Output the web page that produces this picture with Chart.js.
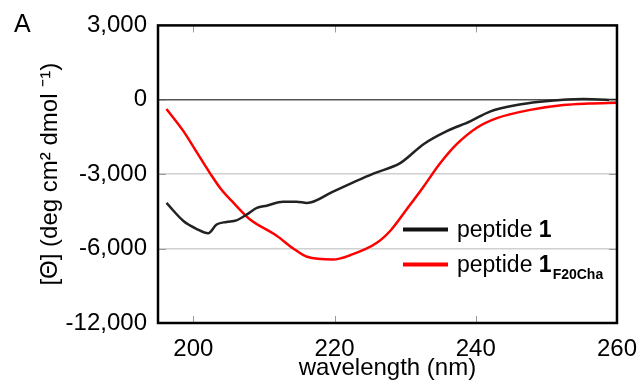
<!DOCTYPE html>
<html>
<head>
<meta charset="utf-8">
<script src="https://cdn.jsdelivr.net/npm/chart.js@4/dist/chart.umd.min.js"></script>
<style>
    html, body { margin: 0; padding: 0; background: #fff; }
    #wrap { width: 641px; height: 383px; }
</style>
</head>
<body>
<div id="wrap"><canvas id="cdChart" width="641" height="383"></canvas></div>
<script>
// Данные спектров КД
var wavelength1 = [196.2, 198.6, 200.5, 202.1, 203.3, 204.7, 206.1, 207.6, 209.0, 210.4, 212.7, 214.6, 216.1, 219.8, 222.5, 225.5, 229.3, 232.6, 235.9, 239.2, 242.0, 245.8, 249.1, 252.9, 255.2, 260.0];
var peptide1 = [-4160, -4885, -5210, -5385, -5030, -4925, -4860, -4620, -4360, -4270, -4110, -4110, -4160, -3700, -3350, -2975, -2555, -1790, -1264, -870, -474, -210, -79, 13, 28, -12];

var wavelength2 = [196.2, 198.6, 200.5, 202.4, 204.0, 205.7, 208.0, 211.8, 214.2, 216.1, 219.8, 222.2, 226.0, 228.0, 230.2, 232.6, 234.9, 237.3, 240.1, 243.0, 247.7, 252.4, 256.0, 260.0];
var peptide1F20Cha = [-370, -1264, -2120, -2975, -3630, -4160, -4820, -5480, -6004, -6330, -6440, -6268, -5767, -5250, -4424, -3504, -2580, -1790, -1134, -739, -407, -210, -150, -118];

// Подписи осей
var xTickValues = [200, 220, 240, 260];
var yTickValues = [-9000, -6000, -3000, 0, 3000];
var yTickLabels = ['-12,000', '-6,000', '-3,000', '0', '3,000'];

var FONT = "'Liberation Sans', Arial, sans-serif";

function toPoints(xs, ys) {
    return xs.map(function(x, i) {
        return { x: x, y: ys[i] };
    });
}

// Рамка, внутренние засечки, легенда и буква "A"
var decorPlugin = {
    id: 'decor',
    afterDraw: function(chart) {
        var ctx = chart.ctx;
        var a = chart.chartArea;
        var xs = chart.scales.x;
        var ys = chart.scales.y;
        ctx.save();

        ctx.strokeStyle = '#999';
        ctx.lineWidth = 1;
        xTickValues.forEach(function(v) {
            var px = Math.round(xs.getPixelForValue(v)) + 0.5;
            ctx.beginPath();
            ctx.moveTo(px, a.bottom); ctx.lineTo(px, a.bottom - 7);
            ctx.moveTo(px, a.top); ctx.lineTo(px, a.top + 7);
            ctx.stroke();
        });
        yTickValues.forEach(function(v) {
            var py = Math.round(ys.getPixelForValue(v)) + 0.5;
            ctx.beginPath();
            ctx.moveTo(a.left, py); ctx.lineTo(a.left + 8, py);
            ctx.moveTo(a.right, py); ctx.lineTo(a.right - 8, py);
            ctx.stroke();
        });

        ctx.strokeStyle = '#000';
        ctx.lineWidth = 2.5;
        ctx.strokeRect(a.left, a.top, a.right - a.left, a.bottom - a.top);

        // легенда
        var lx = a.left + 245;
        var rows = [
            { color: '#111', y: a.top + 204, sub: '' },
            { color: '#ff0000', y: a.top + 239, sub: 'F20Cha' }
        ];
        rows.forEach(function(r) {
            ctx.strokeStyle = r.color;
            ctx.lineWidth = 4;
            ctx.beginPath();
            ctx.moveTo(lx, r.y); ctx.lineTo(lx + 45, r.y);
            ctx.stroke();

            ctx.fillStyle = '#000';
            ctx.textBaseline = 'alphabetic';
            ctx.textAlign = 'left';
            ctx.font = '23px ' + FONT;
            var tx = lx + 54;
            var base = r.y + 8;
            ctx.fillText('peptide ', tx, base);
            tx += ctx.measureText('peptide ').width;
            ctx.font = 'bold 23px ' + FONT;
            ctx.fillText('1', tx, base);
            tx += ctx.measureText('1').width;
            if (r.sub) {
                ctx.font = 'bold 14px ' + FONT;
                ctx.fillText(r.sub, tx + 1, base + 7);
            }
        });

        ctx.fillStyle = '#000';
        ctx.font = '25px ' + FONT;
        ctx.textAlign = 'left';
        ctx.fillText('A', 14, 32);
        ctx.restore();
    }
};

var ctx = document.getElementById('cdChart').getContext('2d');
new Chart(ctx, {
    type: 'line',
    data: {
        datasets: [{
            label: 'peptide 1',
            data: toPoints(wavelength1, peptide1),
            borderColor: '#222',
            borderWidth: 2.5,
            pointRadius: 0,
            cubicInterpolationMode: 'monotone'
        }, {
            label: 'peptide 1 F20Cha',
            data: toPoints(wavelength2, peptide1F20Cha),
            borderColor: '#ff0000',
            borderWidth: 2.5,
            pointRadius: 0,
            cubicInterpolationMode: 'monotone'
        }]
    },
    options: {
        responsive: false,
        animation: false,
        layout: { padding: { top: 20, right: 24, bottom: 0, left: 0 } },
        plugins: {
            legend: { display: false },
            tooltip: { enabled: false }
        },
        scales: {
            x: {
                type: 'linear',
                min: 195,
                max: 260,
                afterBuildTicks: function(scale) {
                    scale.ticks = xTickValues.map(function(v) { return { value: v }; });
                },
                afterFit: function(scale) { scale.height = 60; },
                grid: { display: false },
                border: { display: false },
                ticks: {
                    padding: 4,
                    color: '#000',
                    maxRotation: 0,
                    font: { family: FONT, size: 24 }
                },
                title: {
                    display: true,
                    text: 'wavelength (nm)',
                    color: '#000',
                    padding: { top: 0, bottom: 0 },
                    font: { family: FONT, size: 24 }
                }
            },
            y: {
                min: -9000,
                max: 3000,
                afterBuildTicks: function(scale) {
                    scale.ticks = yTickValues.map(function(v) { return { value: v }; });
                },
                afterFit: function(scale) { scale.width = 158; },
                grid: {
                    drawTicks: false,
                    color: function(c) {
                        var v = c.tick ? c.tick.value : null;
                        if (v === 0) return '#555';
                        if (v === 3000 || v === -9000) return 'rgba(0,0,0,0)';
                        return '#d0d0d0';
                    },
                    lineWidth: 1.5
                },
                border: { display: false },
                ticks: {
                    padding: 11,
                    color: '#000',
                    font: { family: FONT, size: 24 },
                    callback: function(value) {
                        var i = yTickValues.indexOf(value);
                        return yTickLabels[i];
                    }
                },
                title: {
                    display: true,
                    text: '[\u0398] (deg cm\u00B2 dmol \u207B\u00B9)',
                    color: '#000',
                    padding: { top: 36, bottom: 0 },
                    font: { family: FONT, size: 24 }
                }
            }
        }
    },
    plugins: [decorPlugin]
});
</script>
</body>
</html>
